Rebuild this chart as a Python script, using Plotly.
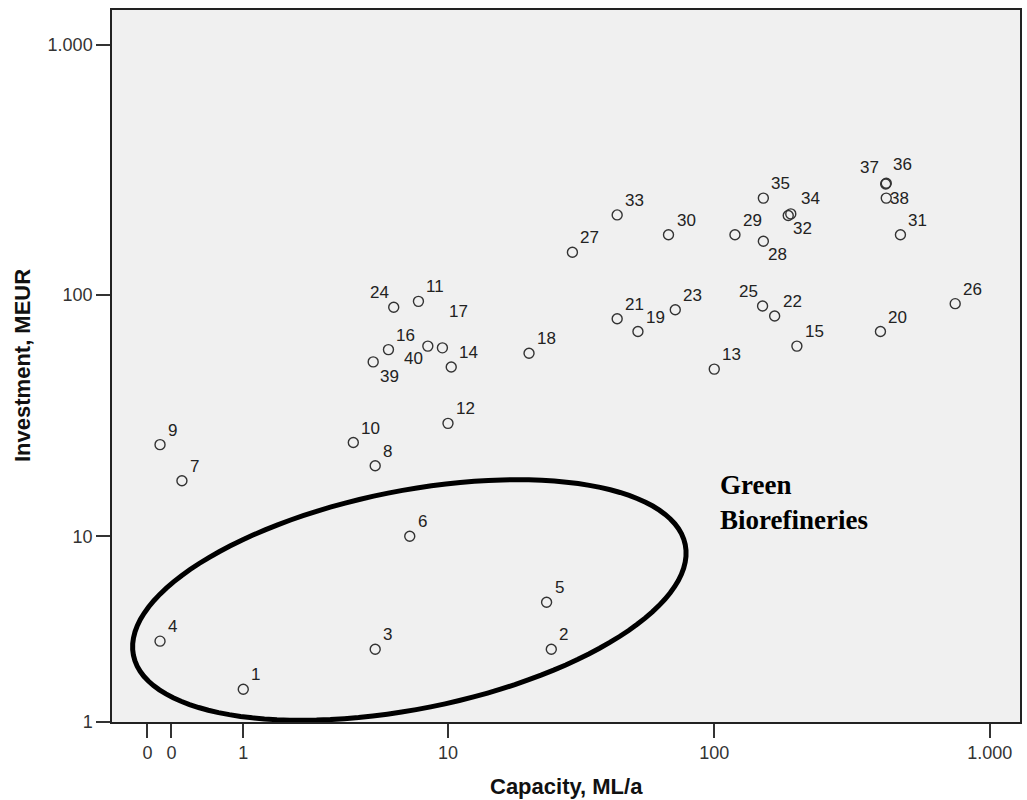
import numpy as np
import plotly.graph_objects as go

# ---------------- data ----------------
ids = list(range(1, 41))
capacity = [1.0, 25, 5.0, 0.0, 24, 7.0, 0.2, 5.0, 0.0, 4.0,
            7.6, 10, 100, 10.3, 200, 5.7, 9.5, 20.6, 52.5, 402,
            44, 166, 72, 6.0, 150, 750, 30, 151, 119, 68,
            475, 186, 44, 190, 151, 422, 420, 422, 4.9, 8.3]
investment = [1.7, 2.9, 2.9, 3.2, 5.0, 10, 17.3, 20, 24.5, 25,
              94, 30, 50, 51, 62, 60, 61, 58, 71, 71,
              80, 82, 87, 89, 90, 92, 148, 164, 174, 174,
              174, 208, 209, 211, 244, 280, 278, 244, 53.5, 62]

x_tick_values = [-0.1, 0.1, 1, 10, 100, 1000]
x_tick_labels = ["0", "0", "1", "10", "100", "1.000"]
y_tick_values = [1, 10, 100, 1000]
y_tick_labels = ["1", "10", "100", "1.000"]

x_title = "Capacity, ML/a"
y_title = "Investment, MEUR"
group_label = "Green<br>Biorefineries"


def tf(v):
    """Axis transform used by the original chart: log10(v + 1)."""
    return np.log10(np.asarray(v, dtype=float) + 1.0)


# ---------------- layout constants ----------------
W, H = 1027, 800
ML, MR, MT, MB = 112, 5, 10, 78
XR = [-0.1737, 3.110]
YR = [float(tf(1)), 3.139]
PW, PH = W - ML - MR, H - MT - MB
kx = PW / (XR[1] - XR[0])
ky = PH / (YR[1] - YR[0])

fig = go.Figure()

fig.add_trace(go.Scatter(
    x=tf(capacity), y=tf(investment), mode="markers",
    marker=dict(symbol="circle-open", size=10, color="#333333",
                line=dict(width=1.4, color="#333333")),
    hoverinfo="text", text=[str(i) for i in ids], showlegend=False,
))

# label placement (offsets in px; default upper-right)
default_pos = ("left", "bottom", 7, 4)
special_pos = {
    24: ("right", "bottom", -4, 4),
    39: ("left", "top", 6, -4),
    40: ("right", "top", -4, -2),
    17: ("left", "bottom", 6, 26),
    32: ("left", "top", 4, -3),
    34: ("left", "bottom", 9, 5),
    28: ("left", "top", 4, -3),
    37: ("right", "bottom", -6, 6),
    36: ("left", "bottom", 6, 8),
    38: ("left", "middle", 3, 0),
    25: ("right", "bottom", -4, 4),
}
lbl_font = dict(family="Arial, Liberation Sans, sans-serif", size=17, color="#222222")
for i, c, v in zip(ids, capacity, investment):
    xa, ya, dx, dy = special_pos.get(i, default_pos)
    fig.add_annotation(x=float(tf(c)), y=float(tf(v)), xref="x", yref="y",
                       text=str(i), showarrow=False, xanchor=xa, yanchor=ya,
                       xshift=dx, yshift=dy, font=lbl_font, borderpad=0)

# ellipse (drawn annotation), defined in pixels and converted to axis units
cx_px, cy_px, a_px, b_px, ang = 410, 600, 282, 109, np.deg2rad(11.3)
t = np.linspace(0, 2 * np.pi, 121)
ex = cx_px + a_px * np.cos(t) * np.cos(ang) - b_px * np.sin(t) * np.sin(ang)
ey = cy_px - (a_px * np.cos(t) * np.sin(ang) + b_px * np.sin(t) * np.cos(ang))
ux = XR[0] + (ex - ML) / kx
uy = YR[0] + (MT + PH - ey) / ky
path = "M " + " L ".join(f"{a:.5f},{b:.5f}" for a, b in zip(ux, uy)) + " Z"
fig.add_shape(type="path", path=path, xref="x", yref="y",
              line=dict(color="black", width=5))

fig.add_annotation(x=(719 - ML) / PW, y=(MT + PH - 502) / PH, xref="paper", yref="paper",
                   text=group_label, showarrow=False, xanchor="left", yanchor="middle",
                   align="left",
                   font=dict(family="Liberation Serif, Times New Roman, serif", size=27,
                             color="black", weight="bold"))

# axis titles
title_font = dict(family="Arial, Liberation Sans, sans-serif", size=22, color="#111111",
                  weight="bold")
fig.add_annotation(x=0.5, y=0, xref="paper", yref="paper", yshift=-64,
                   text=x_title, showarrow=False, xanchor="center", yanchor="middle",
                   font=title_font)
fig.add_annotation(x=0, y=0.5, xref="paper", yref="paper", xshift=-90,
                   text=y_title, showarrow=False, textangle=-90,
                   xanchor="center", yanchor="middle", font=title_font)

tick_font = dict(family="Arial, Liberation Sans, sans-serif", size=18, color="#333333")
fig.update_xaxes(range=XR, type="linear", tickmode="array",
                 tickvals=tf(x_tick_values), ticktext=x_tick_labels,
                 ticks="outside", ticklen=14, tickwidth=1.5, tickcolor="#333333",
                 showgrid=False, zeroline=False, showline=True, linecolor="#222222",
                 linewidth=1.5, mirror=True, tickfont=tick_font)
fig.update_yaxes(range=YR, type="linear", tickmode="array",
                 tickvals=tf(y_tick_values), ticktext=y_tick_labels,
                 ticks="outside", ticklen=14, tickwidth=1.5, tickcolor="#333333",
                 showgrid=False, zeroline=False, showline=True, linecolor="#222222",
                 linewidth=1.5, mirror=True, tickfont=tick_font)

fig.update_layout(width=W, height=H, margin=dict(l=ML, r=MR, t=MT, b=MB),
                  paper_bgcolor="white", plot_bgcolor="#F0F0F0", showlegend=False)

fig.write_html("out.html", config={"displayModeBar": False},
               post_script="document.body.style.margin='0';document.body.style.padding='0';")
